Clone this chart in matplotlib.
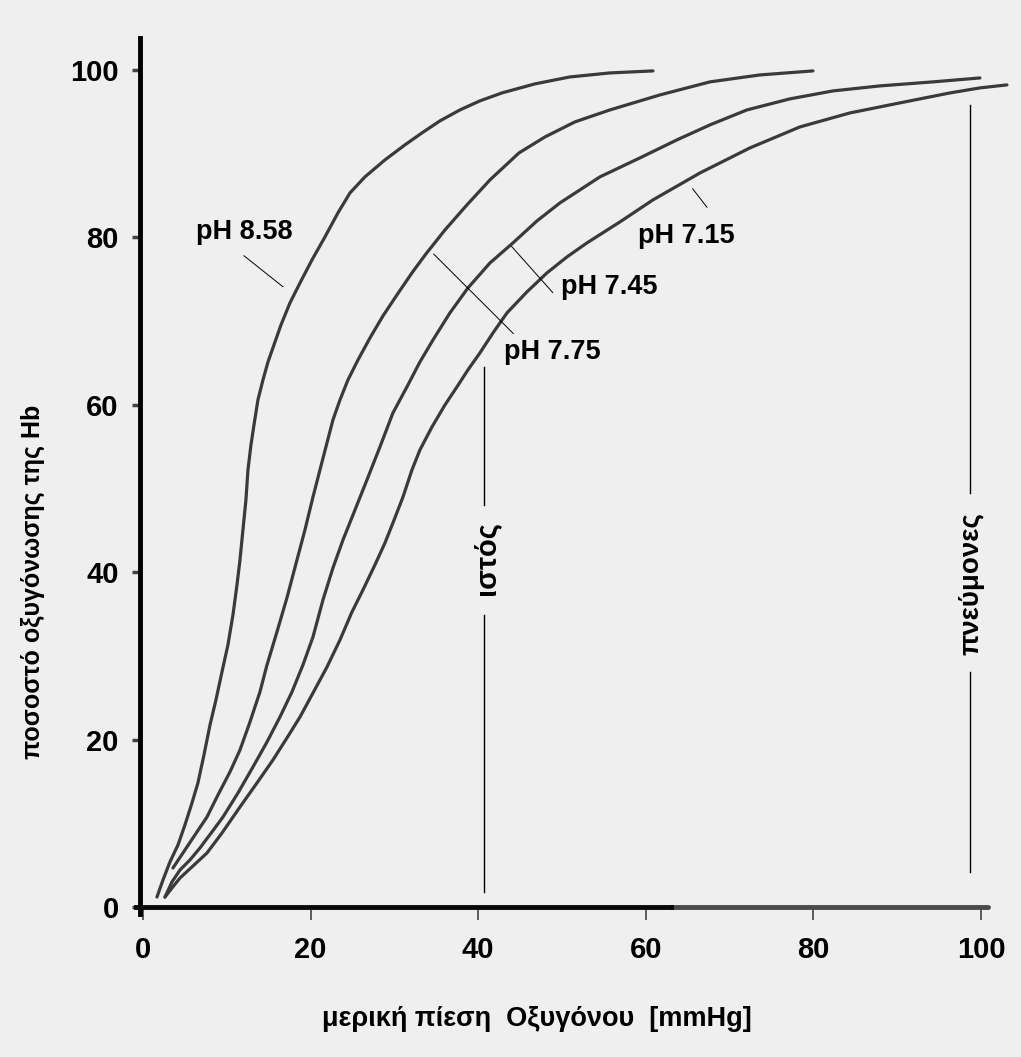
import matplotlib
matplotlib.use('Agg')
from matplotlib import pyplot as plt

# oxygen dissociation curves
# x: partial pressure of O2 [mmHg], y: Hb saturation [%]
ph858_x = [1.67, 2.39, 3.22, 4.18, 5.01, 5.85, 6.56, 7.28, 8.00, 8.71, 9.43, 10.14,
           10.74, 11.22, 11.58, 11.93, 12.29, 12.53, 12.89, 13.25, 13.72, 14.32, 14.92,
           15.63, 16.47, 17.54, 18.74, 20.17, 21.72, 23.27, 24.70, 26.49, 28.88, 31.26,
           33.29, 35.44, 37.83, 40.21, 42.84, 46.78, 50.95, 55.73, 60.86]
ph858_y = [1.19, 3.23, 5.38, 7.41, 9.80, 12.43, 14.81, 18.16, 21.74, 24.73, 28.08, 31.30,
           34.89, 38.47, 41.46, 45.04, 48.63, 52.21, 55.20, 57.59, 60.57, 62.96, 65.11,
           67.14, 69.53, 72.16, 74.55, 77.30, 80.05, 82.92, 85.30, 87.22, 89.25, 91.04,
           92.47, 93.91, 95.22, 96.30, 97.25, 98.33, 99.16, 99.64, 99.88]

ph775_x = [3.58, 5.01, 6.44, 7.64, 8.95, 10.38, 11.58, 12.77, 13.96, 14.80, 15.99, 17.18,
           18.38, 19.33, 20.29, 21.12, 21.96, 22.67, 23.51, 24.46, 25.66, 27.09, 28.64,
           30.31, 32.10, 33.77, 36.04, 38.66, 41.41, 44.87, 47.97, 51.55, 55.73, 61.69,
           67.66, 73.63, 79.95]
ph775_y = [4.66, 6.81, 8.96, 10.75, 13.38, 16.13, 18.76, 22.10, 25.69, 28.91, 32.86, 36.92,
           41.46, 45.04, 48.98, 52.21, 55.44, 58.18, 60.57, 62.96, 65.35, 67.98, 70.61,
           73.12, 75.75, 78.02, 80.88, 83.87, 86.86, 90.08, 91.99, 93.79, 95.22, 97.01,
           98.57, 99.40, 99.88]

ph745_x = [2.63, 3.46, 4.42, 5.61, 6.80, 8.23, 9.55, 11.34, 13.13, 14.80, 16.35, 17.78,
           19.09, 20.29, 21.48, 22.67, 23.87, 25.30, 26.73, 28.28, 29.83, 31.50, 33.05,
           34.61, 36.63, 38.78, 41.41, 44.15, 47.02, 49.76, 54.53, 59.31, 63.72, 67.66,
           72.08, 77.21, 82.34, 87.95, 94.27, 99.88]
ph745_y = [1.19, 2.99, 4.42, 5.62, 7.05, 8.96, 10.75, 13.62, 16.73, 19.71, 22.70, 25.69,
           28.91, 32.26, 36.68, 40.50, 43.85, 47.43, 51.02, 54.96, 59.02, 62.13, 65.11,
           67.74, 70.97, 73.95, 76.94, 79.33, 81.96, 84.11, 87.22, 89.49, 91.64, 93.43,
           95.22, 96.54, 97.49, 98.09, 98.57, 99.04]

ph715_x = [2.63, 3.46, 4.42, 5.97, 7.64, 9.43, 11.58, 13.60, 15.51, 17.18, 18.74, 20.29,
           21.96, 23.51, 24.94, 26.25, 27.68, 28.88, 29.83, 31.03, 32.10, 33.05, 34.49,
           36.04, 37.47, 38.78, 40.21, 41.77, 43.44, 45.82, 48.21, 50.60, 52.98, 56.92,
           60.86, 66.47, 72.43, 78.40, 84.37, 90.33, 96.30, 99.88, 103.10]
ph715_y = [1.19, 2.27, 3.46, 4.90, 6.45, 8.84, 11.95, 14.81, 17.56, 20.19, 22.70, 25.57,
           28.67, 31.90, 35.24, 37.87, 40.86, 43.49, 45.88, 48.98, 52.21, 54.60, 57.35,
           59.98, 62.13, 64.16, 66.19, 68.58, 70.97, 73.48, 75.75, 77.66, 79.33, 81.84,
           84.47, 87.69, 90.68, 93.19, 94.86, 96.06, 97.25, 97.85, 98.21]

x_ticks = [0, 20, 40, 60, 80, 100]
y_ticks = [0, 20, 40, 60, 80, 100]

tissue_po2 = 40.7
lung_po2 = 98.7

BG = '#efefef'
CURVE = '#3a3a3a'

plt.rcParams['font.family'] = ['Liberation Sans', 'DejaVu Sans']
plt.rcParams['font.weight'] = 'bold'

fig = plt.figure(figsize=(10.21, 10.57), dpi=100, facecolor=BG)
ax = fig.add_axes([0.1318, 0.1340, 0.8659, 0.8355], facecolor=BG)

for xs, ys in [(ph858_x, ph858_y), (ph775_x, ph775_y),
               (ph745_x, ph745_y), (ph715_x, ph715_y)]:
    ax.plot(xs, ys, color=CURVE, lw=2.3, solid_capstyle='round',
            solid_joinstyle='round', clip_on=False)

ax.set_xlim(-1.0, 104.5)
ax.set_ylim(-1.0, 104.5)

for s in ['top', 'right']:
    ax.spines[s].set_visible(False)
ax.spines['left'].set_position(('data', -0.4))
ax.spines['left'].set_bounds(-0.8, 103.8)
ax.spines['left'].set_linewidth(3.5)
ax.spines['bottom'].set_position(('data', 0))
ax.spines['bottom'].set_bounds(-0.8, 63)
ax.spines['bottom'].set_linewidth(3.5)
ax.spines['bottom'].set_color('#080808')
# faded right part of the x axis
ax.plot([63, 100.8], [0, 0], color='#4a4a4a', lw=3.5, solid_capstyle='round', clip_on=False)

ax.set_xticks(x_ticks)
ax.set_yticks(y_ticks)
ax.tick_params(axis='x', direction='out', length=9, width=1.2, color='#444444',
               pad=12, labelsize=21)
ax.tick_params(axis='y', direction='out', length=6, width=2.5, color='#444444',
               pad=9, labelsize=21)

ax.set_xlabel('μερική πίεση  Οξυγόνου  [mmHg]', fontsize=19.5, fontweight='bold')
ax.xaxis.set_label_coords(0.455, -0.103)
ax.set_ylabel('ποσοστό οξυγόνωσης της Hb', fontsize=18, fontweight='bold')
ax.yaxis.set_label_coords(-0.101, 0.378)

# curve labels with leader lines
labels = [
    ('pH 8.58', (12.05, 80.6), [(12.05, 77.8), (16.7, 74.1)]),
    ('pH 7.75', (48.9, 66.3), [(34.7, 78.0), (44.2, 68.5)]),
    ('pH 7.45', (55.7, 74.1), [(44.0, 78.9), (48.9, 73.4)]),
    ('pH 7.15', (64.8, 80.2), [(65.6, 85.8), (67.3, 83.6)]),
]
for txt, pos, seg in labels:
    ax.text(pos[0], pos[1], txt, ha='center', va='center', fontsize=19.5, fontweight='bold')
    ax.plot([seg[0][0], seg[1][0]], [seg[0][1], seg[1][1]], color='black', lw=0.7)

# tissue and lung markers
ax.plot([tissue_po2, tissue_po2], [64.5, 48.0], color='black', lw=1.0)
ax.plot([tissue_po2, tissue_po2], [34.9, 1.8], color='black', lw=1.0)
ax.text(tissue_po2 + 0.3, 41.7, 'ιστός', rotation=90, ha='center', va='center',
        fontsize=21, fontweight='bold')

ax.plot([lung_po2, lung_po2], [95.8, 49.5], color='black', lw=1.0)
ax.plot([lung_po2, lung_po2], [28.1, 4.2], color='black', lw=1.0)
ax.text(lung_po2 + 0.2, 38.6, 'πνεύμονες', rotation=90, ha='center', va='center',
        fontsize=20, fontweight='bold')

fig.savefig('out.png', dpi=100, facecolor=BG)
